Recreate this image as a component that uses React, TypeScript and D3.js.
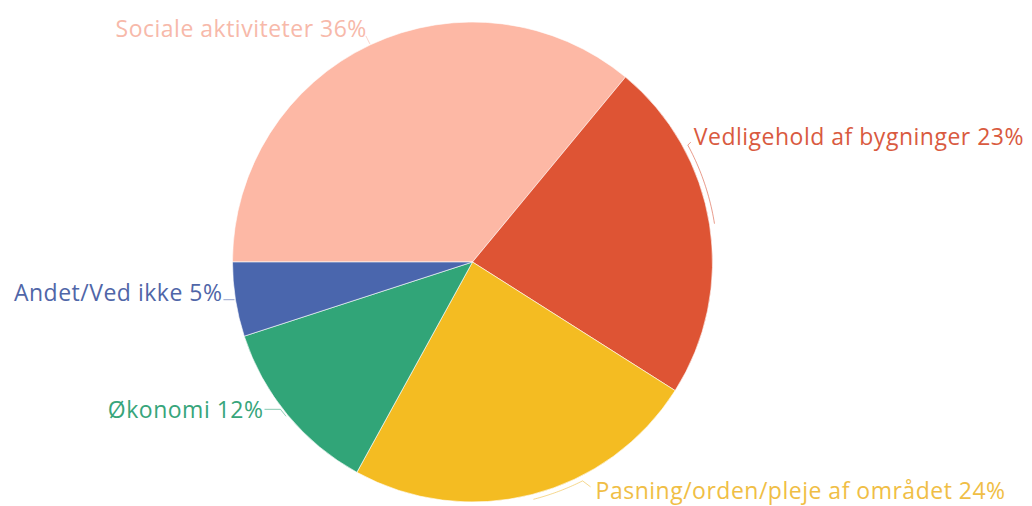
import React from "react";
import * as d3 from "d3";

const categories = [
  "Sociale aktiviteter",
  "Vedligehold af bygninger",
  "Pasning/orden/pleje af området",
  "Økonomi",
  "Andet/Ved ikke",
];
const values = [36, 23, 24, 12, 5];
const sliceColors = ["#fdb8a5", "#de5434", "#f4bc22", "#31a578", "#4a66ad"];
const textColors = ["#f7b9aa", "#d95a40", "#f0be45", "#37a57b", "#5066a8"];

const W = 1032;
const H = 506;
const cx = 472.5;
const cy = 262;
const R = 240;

const rad = (deg: number) => (deg * Math.PI) / 180;
const polar = (r: number, deg: number): [number, number] => [
  cx + r * Math.sin(rad(deg)),
  cy - r * Math.cos(rad(deg)),
];

type Lay = { arcR: number; toDeg: number | null; tail: [number, number][]; anchor: "start" | "end"; tdx: number; tdy: number };
const layouts: Lay[] = [
  { arcR: 241, toDeg: null, tail: [[-4, -8]], anchor: "end", tdx: 1, tdy: 1 },
  { arcR: 245, toDeg: 61.5, tail: [[3, -3]], anchor: "start", tdx: 3, tdy: 3 },
  { arcR: 245, toDeg: 153.3, tail: [[8, 6]], anchor: "start", tdx: 5, tdy: 12 },
  { arcR: 242, toDeg: 232.5, tail: [[-16, 0]], anchor: "end", tdx: -1, tdy: 9 },
  { arcR: 241, toDeg: null, tail: [[-11, 0]], anchor: "end", tdx: -1, tdy: 1 },
];

export default function App() {
  const pie = d3
    .pie<number>()
    .sort(null)
    .startAngle(-Math.PI / 2)
    .endAngle((3 * Math.PI) / 2)
    .value((d) => d);
  const arcs = pie(values);
  const arcGen = d3.arc<d3.PieArcDatum<number>>().innerRadius(0).outerRadius(R);
  const total = d3.sum(values);

  return (
    <svg width={W} height={H} style={{ position: "absolute", left: 0, top: 0, background: "#fff" }}>
      <g transform={`translate(${cx},${cy})`}>
        {arcs.map((a, i) => (
          <path key={i} d={arcGen(a) || ""} fill={sliceColors[i]} stroke="#ffffff" strokeOpacity={0.6} strokeWidth={1} />
        ))}
      </g>
      {arcs.map((a, i) => {
        const lay = layouts[i];
        const midDeg = (((a.startAngle + a.endAngle) / 2) * 180) / Math.PI;
        const pts: [number, number][] = [];
        const to = lay.toDeg === null ? midDeg : lay.toDeg;
        const steps = 24;
        for (let s = 0; s <= steps; s++) {
          pts.push(polar(lay.arcR, midDeg + ((to - midDeg) * s) / steps));
        }
        let last = pts[pts.length - 1];
        for (const [dx, dy] of lay.tail) {
          last = [last[0] + dx, last[1] + dy];
          pts.push(last);
        }
        const line = d3.line()(pts) || "";
        const pct = Math.round((values[i] / total) * 100);
        return (
          <g key={i}>
            <path d={line} fill="none" stroke={textColors[i]} strokeOpacity={0.6} strokeWidth={1} />
            <text
              x={last[0] + lay.tdx}
              y={last[1] + lay.tdy}
              textAnchor={lay.anchor}
              fill={textColors[i]}
              style={{ fontFamily: "'Open Sans', sans-serif", fontSize: 23, letterSpacing: 0.5 }}
            >
              {`${categories[i]} ${pct}%`}
            </text>
          </g>
        );
      })}
    </svg>
  );
}
